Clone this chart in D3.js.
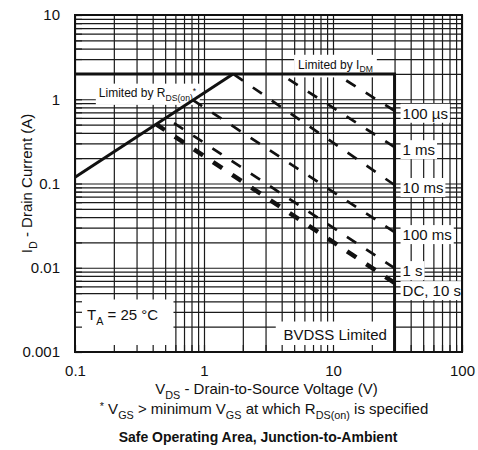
<!DOCTYPE html>
<html>
<head>
<meta charset="utf-8">
<script src="https://cdn.jsdelivr.net/npm/d3@7"></script>
<style>
body { margin: 0; background: #fff; }
svg text { font-family: "Liberation Sans", Arial, sans-serif; fill: #111; }
.grid line { stroke: #1a1a1a; stroke-width: 1.2; }
.grid .domain { display: none; }
</style>
</head>
<body>
<div id="chart"></div>
<script>
// axis ticks
var vdsTicks = [0.1, 1, 10, 100];
var idTicks = [0.001, 0.01, 0.1, 1, 10];

// limit lines
var idmLimit = 2.0;   // A
var bvdss = 30;       // V
var rdsLimit = [[0.1, 0.119], [1.68, 2.0]];

// pulse width curves, [V, A] at start and at the BVDSS line
var pulseLabels = ["100 µs", "1 ms", "10 ms", "100 ms", "1 s", "DC, 10 s"];
var pulseStart = [[10.5, 2.0], [3.9, 2.0], [1.68, 2.0], [0.82, 0.98], [0.51, 0.60], [0.43, 0.50]];
var pulseEnd = [[30, 0.73], [30, 0.27], [30, 0.096], [30, 0.0265], [30, 0.0099], [30, 0.0066]];

var svgWidth = 478, svgHeight = 450;
var margin = {top: 15, right: 16, bottom: 98, left: 75};
var width = svgWidth - margin.left - margin.right;
var height = svgHeight - margin.top - margin.bottom;

var svg = d3.select("#chart").append("svg")
  .attr("width", svgWidth)
  .attr("height", svgHeight);

var g = svg.append("g")
  .attr("transform", "translate(" + margin.left + "," + margin.top + ")");

var x = d3.scaleLog().domain([0.1, 100]).range([0, width]);
var y = d3.scaleLog().domain([0.001, 10]).range([height, 0]);

// text with sub / superscripts
function rich(textSel, parts, size) {
  var shift = 0;
  parts.forEach(function(p) {
    var target = p[1] === "sub" ? size * 0.3 : (p[1] === "sup" ? -size * 0.3 : 0);
    var ts = textSel.append("tspan").text(p[0]).attr("dy", target - shift);
    if (p[1]) ts.attr("font-size", size * 0.72);
    shift = target;
  });
  return textSel;
}

// grid
g.append("g").attr("class", "grid")
  .attr("transform", "translate(0," + height + ")")
  .call(d3.axisBottom(x).tickValues(x.ticks()).tickSize(-height).tickFormat(""));
g.append("g").attr("class", "grid")
  .call(d3.axisLeft(y).tickValues(y.ticks()).tickSize(-width).tickFormat(""));

var boxLayer = g.append("g");
var tickLayer = g.append("g");
var lineLayer = g.append("g");
var textLayer = g.append("g");

// text with a white box behind it, covering the grid
function boxed(px, py, parts, size, anchor, pad) {
  var t = textLayer.append("text")
    .attr("x", px).attr("y", py)
    .attr("font-size", size)
    .attr("text-anchor", anchor || "start");
  rich(t, parts, size);
  var bb = t.node().getBBox();
  boxLayer.append("rect")
    .attr("x", bb.x - pad).attr("y", bb.y - pad + 1)
    .attr("width", bb.width + 2 * pad).attr("height", bb.height + 2 * pad - 2)
    .attr("fill", "#fff");
  return t;
}

// boxes at the bottom corners
var taTop = y(0.0042);
boxLayer.append("rect")
  .attr("x", 0).attr("y", taTop)
  .attr("width", x(0.58)).attr("height", height - taTop)
  .attr("fill", "#fff");
textLayer.append("text").attr("x", 12).attr("y", taTop + 21).attr("font-size", 15)
  .call(rich, [["T"], ["A", "sub"], [" = 25 °C"]], 15);

var bvTop = y(0.0023);
boxLayer.append("rect")
  .attr("x", x(3.6)).attr("y", bvTop)
  .attr("width", x(bvdss) - 1 - x(3.6)).attr("height", height - bvTop)
  .attr("fill", "#fff");
textLayer.append("text").attr("x", (x(3.6) + x(bvdss)) / 2).attr("y", bvTop + 18)
  .attr("text-anchor", "middle").attr("font-size", 15).text("BVDSS Limited");

// limit labels
boxed(x(0.153), y(1) - 2, [["Limited by R"], ["DS(on)", "sub"], ["*", "sup"]], 12, "start", 3);
boxed(x(5.36), y(2.3), [["Limited by I"], ["DM", "sub"]], 12, "start", 4);

// pulse labels at the right, pushed apart where they would collide
var lastY = -100;
pulseLabels.forEach(function(lab, i) {
  var ly = Math.max(y(pulseEnd[i][1]) + 8, lastY + 20);
  lastY = ly;
  boxed(x(bvdss) + 8, ly, [[lab]], 15, "start", 2);
});

// inner frame ticks
tickLayer.append("g").attr("transform", "translate(0," + height + ")")
  .call(d3.axisBottom(x).tickValues(x.ticks()).tickSize(-7).tickFormat(""))
  .call(function(s) { s.select(".domain").remove(); s.selectAll("line").attr("stroke", "#1a1a1a").attr("stroke-width", 1.2); });
tickLayer.append("g")
  .call(d3.axisLeft(y).tickValues(y.ticks()).tickSize(-7).tickFormat(""))
  .call(function(s) { s.select(".domain").remove(); s.selectAll("line").attr("stroke", "#1a1a1a").attr("stroke-width", 1.2); });

// frame
g.append("rect").attr("width", width).attr("height", height)
  .attr("fill", "none").attr("stroke", "#111").attr("stroke-width", 2);

// limit lines
var line = d3.line().x(function(d) { return x(d[0]); }).y(function(d) { return y(d[1]); });
lineLayer.append("path")
  .attr("d", line([[0.1, idmLimit], [bvdss, idmLimit], [bvdss, 0.001]]))
  .attr("fill", "none").attr("stroke", "#111").attr("stroke-width", 3);
lineLayer.append("path")
  .attr("d", line(rdsLimit))
  .attr("fill", "none").attr("stroke", "#111").attr("stroke-width", 3);

// pulse curves, dashed, drawn from the BVDSS end
pulseLabels.forEach(function(lab, i) {
  lineLayer.append("path")
    .attr("d", line([pulseEnd[i], pulseStart[i]]))
    .attr("fill", "none").attr("stroke", "#111")
    .attr("stroke-width", i == 5 ? 4.5 : 2.7)
    .attr("stroke-dasharray", "11,12");
});

// axes labels
var xAxis = d3.axisBottom(x).tickValues(vdsTicks).tickSize(0).tickPadding(13)
  .tickFormat(function(d) { return d3.format("~g")(d); });
g.append("g").attr("transform", "translate(0," + height + ")").call(xAxis)
  .call(function(s) {
    s.select(".domain").remove();
    s.selectAll("text").attr("font-size", 15).attr("font-family", "Liberation Sans, Arial, sans-serif").attr("fill", "#111");
  });

var yAxis = d3.axisLeft(y).tickValues(idTicks).tickSize(0).tickPadding(15)
  .tickFormat(function(d) { return d3.format("~g")(d); });
g.append("g").call(yAxis)
  .call(function(s) {
    s.select(".domain").remove();
    s.selectAll("text").attr("font-size", 15).attr("font-family", "Liberation Sans, Arial, sans-serif").attr("fill", "#111");
  });

svg.append("text")
  .attr("transform", "translate(32," + (margin.top + height / 2) + ") rotate(-90)")
  .attr("text-anchor", "middle").attr("font-size", 15)
  .call(rich, [["I"], ["D", "sub"], [" - Drain Current (A)"]], 15);

svg.append("text")
  .attr("x", margin.left + width / 2 - 2).attr("y", 394)
  .attr("text-anchor", "middle").attr("font-size", 15)
  .call(rich, [["V"], ["DS", "sub"], [" - Drain-to-Source Voltage (V)"]], 15);

svg.append("text")
  .attr("x", 264).attr("y", 414)
  .attr("text-anchor", "middle").attr("font-size", 15)
  .call(rich, [["*", "sup"], [" V"], ["GS", "sub"], [" > minimum V"], ["GS", "sub"], [" at which R"], ["DS(on)", "sub"], [" is specified"]], 15);

svg.append("text")
  .attr("x", 258).attr("y", 442)
  .attr("text-anchor", "middle").attr("font-size", 14).attr("font-weight", "bold")
  .text("Safe Operating Area, Junction-to-Ambient");
</script>
</body>
</html>
